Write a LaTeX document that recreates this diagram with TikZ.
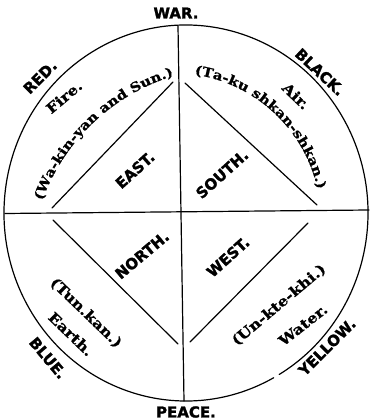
\documentclass[tikz,border=0pt]{standalone}
\usepackage{fontspec}
\setmainfont{DejaVu Serif}
\newfontfamily\capfont[FakeBold=1.6]{DejaVu Sans Bold}
\newfontfamily\namefont[FakeStretch=1.15,FakeBold=1]{DejaVu Serif Bold}
\newcommand\quarterfont{\fontsize{15}{17}\capfont}
\newcommand\spiritfont{\fontsize{13}{15}\namefont}
\newcommand\bigspiritfont{\fontsize{14}{16}\namefont}
\usetikzlibrary{decorations.text}

\tikzset{
  quarter/.style={font=\quarterfont, inner sep=0pt},
  spirit/.style={font=\bigspiritfont, inner sep=0pt},
  rim/.style={line width=1.2pt},
}

\begin{document}
\begin{tikzpicture}[x=1pt, y=1pt, line cap=round]
  \useasboundingbox (0,0) rectangle (370,420);
  % ===== outer rim and the two cross lines =====
  \coordinate (mid) at (186,207);
  \draw[rim] ([shift={(-59.2:182 and 188)}]mid)
    arc[start angle=-59.2, end angle=298.8, x radius=182, y radius=188];
  \coordinate (war)   at (178,394);
  \coordinate (peace) at (184,19);
  \coordinate (west)  at (5,206.5);
  \coordinate (east)  at (369,210);
  \draw[rim] (war) -- (peace);
  \draw[rim] (west) -- (east);
  % ===== inner diamond (four loose edges) =====
  \coordinate (ulA) at (173,338);  \coordinate (ulB) at (52,212);
  \coordinate (urA) at (185,337);  \coordinate (urB) at (317,215);
  \coordinate (llA) at (53,200);   \coordinate (llB) at (178,76);
  \coordinate (lrA) at (308,197);  \coordinate (lrB) at (190,78);
  \draw[rim] (ulA) -- (ulB);
  \draw[rim] (urA) -- (urB);
  \draw[rim] (llA) -- (llB);
  \draw[rim] (lrA) -- (lrB);
  % ===== outer words =====
  \node[quarter] (warT)    at (176,407) {WAR.};
  \node[quarter] (peaceT)  at (186,8) {PEACE.};
  \node[quarter, rotate=45]  (red)    at (40,343) {RED.};
  \node[quarter, rotate=-43] (black)  at (320,348) {BLACK.};
  \node[quarter, rotate=-50] (blue)   at (48,62) {BLUE.};
  \node[quarter, rotate=45]  (yellow) at (327,73) {YELLOW.};
  % ===== quarters of the diamond =====
  \node[quarter, rotate=42] (eastT)  at (135,250) {EAST.};
  \node[quarter, rotate=42] (southT) at (222,246) {SOUTH.};
  \node[quarter, rotate=40] (northT) at (142,165) {NORTH.};
  \node[quarter, rotate=42] (westT)  at (228,163) {WEST.};
  % ===== elements and their powers =====
  \node[spirit, rotate=40]  (fire)  at (64,323) {Fire.};
  \node[spirit, rotate=-44] (air)   at (296,324) {Air.};
  \node[spirit, rotate=-44] (tunkan) at (86,107) {(Tun.kan.)};
  \node[spirit, rotate=-44] (earth) at (71,86) {Earth.};
  \node[spirit, rotate=40]  (unktehi) at (279,115) {(Un-kte-khi.)};
  \node[spirit, rotate=38]  (water) at (303,95) {Water.};
  % curved names
  \coordinate (fireC) at (233,150);
  \path[decorate, decoration={text along path, text align=center,
      text={|\spiritfont|(Wa-kin-yan and Sun.)}}]
    ([shift={(161:203)}]fireC) arc[start angle=161, end angle=106, radius=203];
  \coordinate (airC) at (173,199);
  \path[decorate, decoration={text along path, text align=center,
      text={|\spiritfont|(Ta-ku shkan-shkan.)}}]
    ([shift={(85:148)}]airC) arc[start angle=85, end angle=9, radius=148];
\end{tikzpicture}
\end{document}
